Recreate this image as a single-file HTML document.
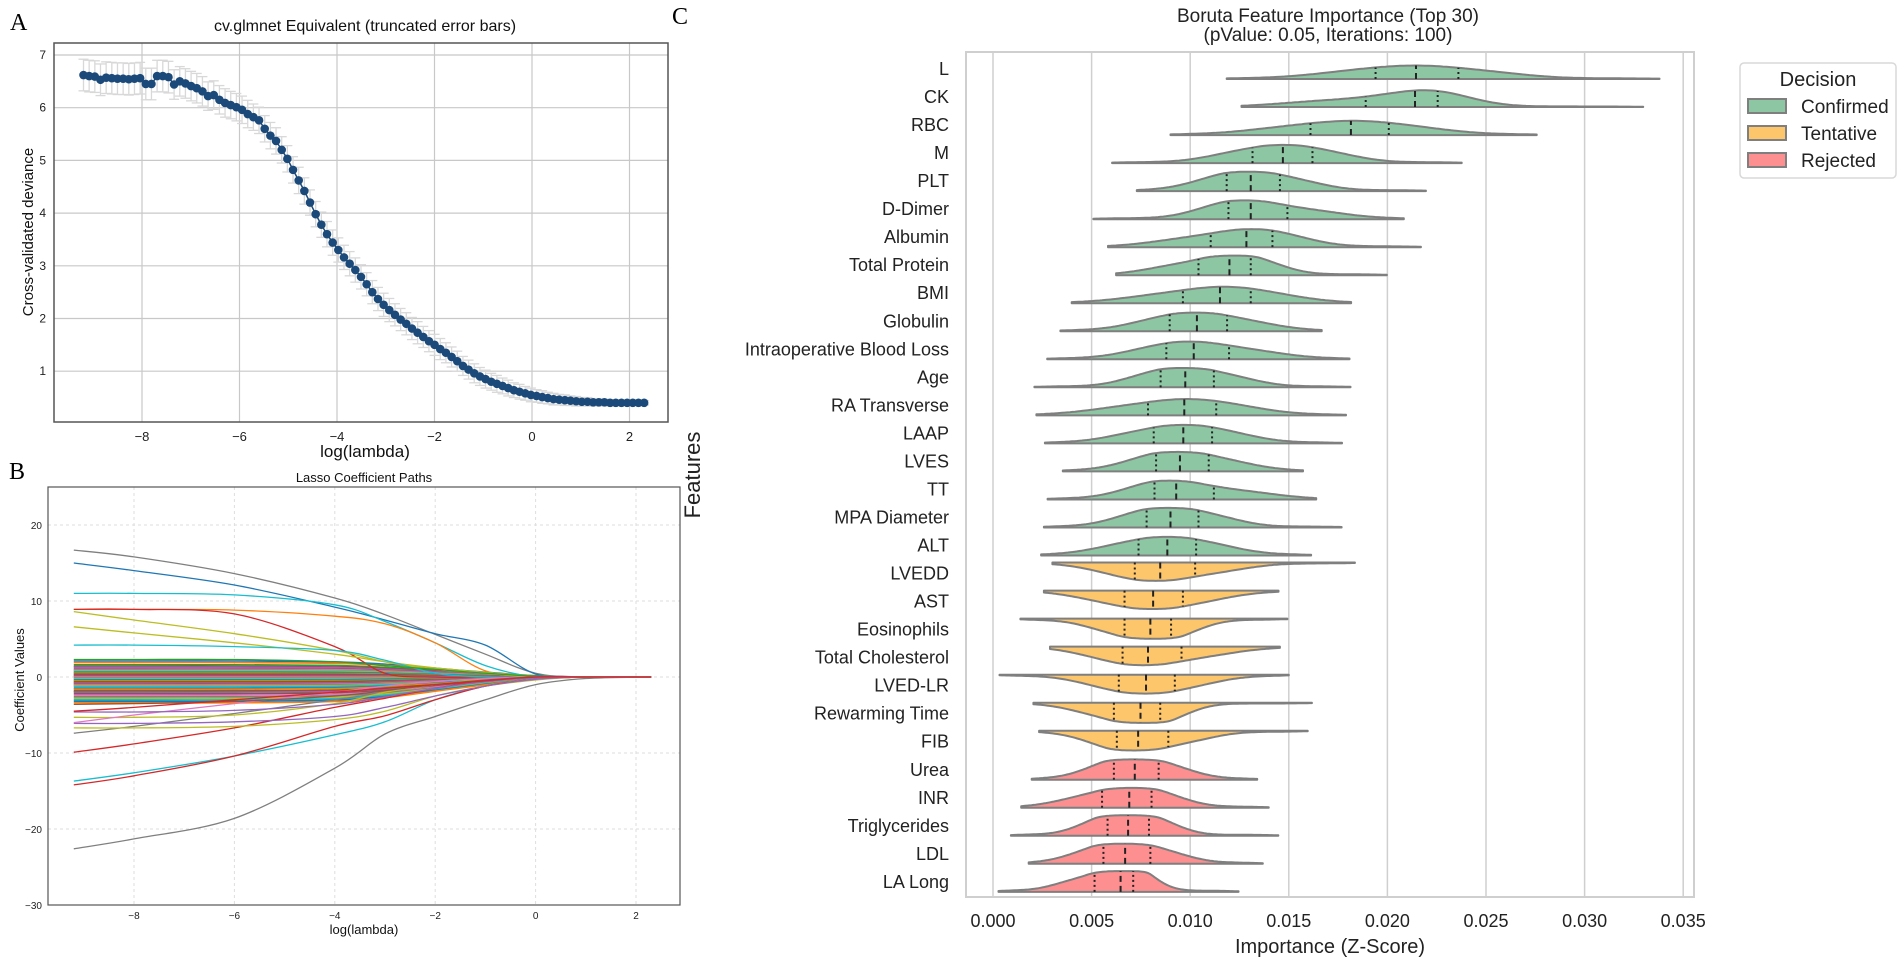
<!DOCTYPE html>
<html><head><meta charset="utf-8">
<style>
html,body{margin:0;padding:0;background:#fff;}
svg{display:block;font-family:"Liberation Sans",sans-serif;}
</style></head>
<body>
<svg id="fig" width="1900" height="960" viewBox="0 0 1900 960" xmlns="http://www.w3.org/2000/svg">
<g id="pa"></g>
<g id="pb"></g>
<g id="pc"></g>
</svg>
<script>
// ---------- Panel A data ----------
const cvLogLambdaStart = -9.2;
const cvLogLambdaEnd = 2.3;
const cvDeviance = [6.62,6.60,6.59,6.53,6.57,6.56,6.55,6.55,6.54,6.55,6.56,6.45,6.45,6.60,6.60,6.58,
6.44,6.50,6.46,6.41,6.37,6.31,6.22,6.24,6.15,6.09,6.05,6.01,5.96,5.88,5.82,5.76,5.60,5.47,5.37,5.20,5.03,4.82,4.62,4.42,4.20,3.98,3.78,3.60,
3.44,3.30,3.16,3.04,2.92,2.79,2.65,2.50,2.37,2.26,2.16,2.07,1.98,1.90,1.81,1.73,1.65,1.57,1.50,1.42,1.35,1.27,1.19,1.10,1.03,
0.96,0.90,0.85,0.80,0.76,0.72,0.68,0.64,0.61,0.58,0.55,0.53,0.51,0.49,0.47,0.46,0.45,0.44,0.43,0.42,0.42,0.41,0.41,0.41,0.40,0.40,0.40,0.40,0.40,0.40,0.40];
const cvError = [0.30,0.30,0.30,0.30,0.30,0.30,0.30,0.30,0.30,0.30,0.30,0.30,0.30,0.30,0.30,0.30,0.28,0.28,0.28,0.28,0.28,0.28,0.27,0.27,0.27,0.27,0.26,0.26,0.26,0.26,
0.25,0.25,0.25,0.25,0.25,0.25,0.25,0.25,0.25,0.25,0.24,0.24,0.24,0.24,0.24,0.23,0.23,0.23,0.23,0.23,0.22,0.22,0.22,0.22,0.22,0.21,0.21,0.21,0.21,0.21,
0.20,0.20,0.20,0.20,0.19,0.19,0.19,0.18,0.18,0.18,0.17,0.17,0.16,0.16,0.15,0.15,0.14,0.14,0.13,0.13,0.12,0.12,0.11,0.11,0.10,0.10,0.09,0.09,0.08,0.08,
0.07,0.07,0.06,0.06,0.05,0.05,0.05,0.04,0.04,0.04];
const cvXTicks = [-8,-6,-4,-2,0,2];
const cvYTicks = [1,2,3,4,5,6,7];

// ---------- Panel B data ----------
const lassoKnotX = [-9.2,-8,-6,-4,-3,-2,-1,0,1,2.3];
const lassoMain = [
 [16.7,15.8,13.6,10.4,8.2,5.6,3.0,0.5,0,0],
 [15.0,14.0,12.1,9.2,7.5,5.7,4.2,0.4,0,0],
 [11.0,11.0,10.8,9.5,7.3,4.5,1.5,0,0,0],
 [8.9,8.9,8.8,8.0,7.0,4.5,0.8,0,0,0],
 [8.9,8.9,8.3,4.0,0.5,0,0,0,0,0],
 [8.6,7.5,5.7,3.5,2.0,1.0,0.5,0,0,0],
 [6.6,5.8,4.5,3.0,2.0,1.2,0.6,0.1,0,0],
 [4.2,4.2,4.0,3.5,2.2,0.5,0,0,0,0],
 [2.3,2.3,2.3,2.0,1.5,1.0,0.5,0.1,0,0],
 [-13.7,-12.6,-10.4,-7.6,-5.9,-3.0,-1.2,-0.3,0,0],
 [-14.2,-13.0,-10.4,-6.5,-5.1,-3.0,-1.2,-0.3,0,0],
 [-22.6,-21.3,-18.6,-12.0,-7.5,-5.2,-3.0,-1.0,-0.2,0],
 [-9.9,-8.8,-6.7,-4.0,-2.8,-1.5,-0.5,0,0,0],
 [-7.4,-6.5,-4.8,-3.0,-2.0,-1.0,-0.4,0,0,0],
 [-6.7,-6.7,-6.5,-5.6,-4.5,-2.5,-1.2,-0.4,0,0],
 [-6.1,-6.1,-5.9,-5.2,-4.0,-2.5,-1.2,-0.3,0,0],
 [-5.3,-5.3,-5.0,-3.5,-2.0,-1.0,-0.3,0,0,0],
 [-6.0,-5.0,-3.5,-2.0,-1.2,-0.6,-0.2,0,0,0],
 [-4.6,-4.6,-4.4,-3.6,-2.6,-1.5,-0.6,-0.1,0,0],
 [-3.6,-3.5,-3.2,-2.5,-1.8,-1.0,-0.4,0,0,0],
 [-4.5,-4.0,-3.0,-2.0,-1.5,-1.0,-0.5,0,0,0]
];
const lassoMainColors = ['#7f7f7f','#1f77b4','#17becf','#ff7f0e','#d62728','#bcbd22','#bcbd22','#17becf','#2ca02c','#17becf','#d62728','#7f7f7f','#d62728','#7f7f7f','#bcbd22','#9467bd','#bcbd22','#e377c2','#9467bd','#8c564b','#d62728'];
const lassoSmallStarts = [2.1,1.9,1.6,1.4,1.3,1.1,1.0,0.9,0.8,0.7,0.6,0.5,0.4,0.3,0.2,0.1,0.0,-0.1,-0.2,-0.3,-0.4,-0.5,-0.6,-0.7,-0.8,-0.9,-1.0,-1.1,-1.2,-1.3,-1.5,-1.6,-1.8,-1.9,-2.0,-2.2,-2.4,-2.6,-2.8,-3.0,-3.2,-3.4];
const lassoSmallShape = [1,1,1,0.95,0.8,0.55,0.3,0.08,0,0];
const lassoXTicks = [-8,-6,-4,-2,0,2];
const lassoYTicks = [-30,-20,-10,0,10,20];

// ---------- Panel C data ----------
const features = ['L','CK','RBC','M','PLT','D-Dimer','Albumin','Total Protein','BMI','Globulin','Intraoperative Blood Loss','Age','RA Transverse','LAAP','LVES','TT','MPA Diameter','ALT','LVEDD','AST','Eosinophils','Total Cholesterol','LVED-LR','Rewarming Time','FIB','Urea','INR','Triglycerides','LDL','LA Long'];
const decisions = ['C','C','C','C','C','C','C','C','C','C','C','C','C','C','C','C','C','C','T','T','T','T','T','T','T','R','R','R','R','R'];
// importance values in units of 0.001
const impMin = [11.85,12.6,9.0,6.04,7.29,5.09,5.83,6.24,3.99,3.42,2.75,2.1,2.2,2.63,3.54,2.77,2.58,2.44,3.01,2.58,1.39,2.89,0.33,2.05,2.34,1.96,1.43,0.91,1.81,0.28];
const impQ1 = [19.4,18.9,16.1,13.16,11.85,11.94,11.04,10.42,9.63,8.96,8.79,8.5,7.86,8.15,8.27,8.19,7.79,7.38,7.19,6.67,6.67,6.57,6.38,6.13,6.28,6.13,5.53,5.81,5.6,5.15];
const impMed = [21.45,21.4,18.15,14.7,13.07,13.07,12.85,11.99,11.51,10.34,10.18,9.75,9.7,9.65,9.48,9.29,9.0,8.84,8.48,8.12,7.98,7.86,7.76,7.48,7.36,7.19,6.91,6.85,6.7,6.47];
const impQ3 = [23.6,22.55,20.07,16.2,14.55,14.93,14.17,13.07,13.07,11.87,11.97,11.2,11.32,11.11,10.94,11.2,10.42,10.3,10.25,9.63,9.03,9.56,9.22,8.48,8.89,8.4,8.04,7.91,7.98,7.11];
const impMax = [33.8,32.97,27.57,23.77,21.95,20.83,21.7,19.97,18.16,16.67,18.08,18.13,17.9,17.7,15.72,16.39,17.68,16.13,18.35,14.48,14.93,14.55,15.0,16.17,15.96,13.4,13.98,14.47,13.68,12.45];
const impTicks = [0,5,10,15,20,25,30,35];
const impTickLabels = ['0.000','0.005','0.010','0.015','0.020','0.025','0.030','0.035'];
const legendLabels = ['Confirmed','Tentative','Rejected'];

const NS='http://www.w3.org/2000/svg';
function mk(parent, tag, attrs, text){
  const e=document.createElementNS(NS,tag);
  for(const k in attrs) e.setAttribute(k,attrs[k]);
  if(text!==undefined) e.textContent=text;
  parent.appendChild(e); return e;
}

// ================= Panel A =================
(function(){
  const g=document.getElementById('pa');
  const L=54,R=668,T=43,B=422;
  const xs=v=>142+(v+8)*48.75, ys=v=>55+(7-v)*52.7;
  let t=mk(g,'text',{x:10,y:30,'font-family':'Liberation Serif,serif','font-size':24});
  t.textContent='A';
  
  
  t=mk(g,'text',{x:365,y:31,'text-anchor':'middle','font-size':16,fill:'#111'},'cv.glmnet Equivalent (truncated error bars)');
  
  
  cvXTicks.forEach(v=>{
    const l=mk(g,'line',{x1:xs(v),x2:xs(v),y1:T,y2:B,stroke:'#c8c8c8','stroke-width':1.2});
    
    
    const tx=mk(g,'text',{x:xs(v),y:B+19,'text-anchor':'middle','font-size':13,fill:'#222'},v<0?'\u2212'+Math.abs(v):String(v));
    
    
  });
  cvYTicks.forEach(v=>{
    const l=mk(g,'line',{x1:L,x2:R,y1:ys(v),y2:ys(v),stroke:'#c8c8c8','stroke-width':1.2});
    
    
    const tx=mk(g,'text',{x:L-8,y:ys(v)+4,'text-anchor':'end','font-size':12,fill:'#222'},String(v));
    
    
  });
  const n=cvDeviance.length, step=(cvLogLambdaEnd-cvLogLambdaStart)/(n-1);
  const eb=mk(g,'g',{stroke:'#d8d8d8','stroke-width':1.3,fill:'none'});
  
  
  let pts=[];
  for(let i=0;i<n;i++){
    const x=xs(cvLogLambdaStart+i*step), y=cvDeviance[i], e=cvError[i];
    mk(eb,'line',{x1:x,x2:x,y1:ys(y+e),y2:ys(y-e)});
    mk(eb,'line',{x1:x-5,x2:x+5,y1:ys(y+e),y2:ys(y+e)});
    mk(eb,'line',{x1:x-5,x2:x+5,y1:ys(y-e),y2:ys(y-e)});
    pts.push(x.toFixed(1)+','+ys(y).toFixed(1));
  }
  const pl=mk(g,'polyline',{points:pts.join(' '),fill:'none',stroke:'#1b4a7a','stroke-width':1.5});
  
  
  for(let i=0;i<n;i++){
    const c=mk(g,'circle',{cx:xs(cvLogLambdaStart+i*step),cy:ys(cvDeviance[i]),r:4.3,fill:'#1b4a7a'});
    
    
  }
  const fr=mk(g,'rect',{x:L,y:T,width:R-L,height:B-T,fill:'none',stroke:'#555','stroke-width':1.5});
  
  
  t=mk(g,'text',{x:365,y:457,'text-anchor':'middle','font-size':17,fill:'#111'},'log(lambda)');
  
  
  t=mk(g,'text',{x:0,y:0,'text-anchor':'middle','font-size':15,fill:'#111',transform:'translate(33,232) rotate(-90)'},'Cross-validated deviance');
  
  
})();

// ================= Panel B =================
(function(){
  const g=document.getElementById('pb');
  const L=48,R=680,T=487,B=905;
  const xs=v=>134+(v+8)*50.2, ys=v=>677-v*7.6;
  let t=mk(g,'text',{x:9,y:479,'font-family':'Liberation Serif,serif','font-size':24},'B');
  
  
  t=mk(g,'text',{x:364,y:482,'text-anchor':'middle','font-size':13,fill:'#111'},'Lasso Coefficient Paths');
  
  
  lassoXTicks.forEach(v=>{
    const l=mk(g,'line',{x1:xs(v),x2:xs(v),y1:T,y2:B,stroke:'#dedede','stroke-width':1,'stroke-dasharray':'3,3'});
    
    
    const tx=mk(g,'text',{x:xs(v),y:B+14,'text-anchor':'middle','font-size':10,fill:'#222'},v<0?'\u2212'+Math.abs(v):String(v));
    
    
  });
  lassoYTicks.forEach(v=>{
    const l=mk(g,'line',{x1:L,x2:R,y1:ys(v),y2:ys(v),stroke:'#dedede','stroke-width':1,'stroke-dasharray':'3,3'});
    
    
    const tx=mk(g,'text',{x:L-6,y:ys(v)+4,'text-anchor':'end','font-size':10,fill:'#222'},v<0?'\u2212'+Math.abs(v):String(v));
    
    
  });
  const cyc=['#1f77b4','#ff7f0e','#2ca02c','#d62728','#9467bd','#8c564b','#e377c2','#7f7f7f','#bcbd22','#17becf'];
  function path(vals){
    const P=lassoKnotX.map((x,i)=>[xs(x),ys(vals[i])]);
    let d='M'+P[0][0].toFixed(1)+','+P[0][1].toFixed(1);
    for(let i=0;i<P.length-1;i++){
      const p0=P[Math.max(0,i-1)],p1=P[i],p2=P[i+1],p3=P[Math.min(P.length-1,i+2)];
      const c1=[p1[0]+(p2[0]-p0[0])/6,p1[1]+(p2[1]-p0[1])/6], c2=[p2[0]-(p3[0]-p1[0])/6,p2[1]-(p3[1]-p1[1])/6];
      d+=' C'+c1[0].toFixed(1)+','+c1[1].toFixed(1)+' '+c2[0].toFixed(1)+','+c2[1].toFixed(1)+' '+p2[0].toFixed(1)+','+p2[1].toFixed(1);
    }
    return d;
  }
  lassoSmallStarts.forEach((s,i)=>{
    const p=mk(g,'path',{d:path(lassoSmallShape.map(k=>k*s)),fill:'none',stroke:cyc[i%10],'stroke-width':1.6});
    
    
  });
  lassoMain.forEach((vals,i)=>{
    const p=mk(g,'path',{d:path(vals),fill:'none',stroke:lassoMainColors[i],'stroke-width':1.3});
    
    
  });
  const fr=mk(g,'rect',{x:L,y:T,width:R-L,height:B-T,fill:'none',stroke:'#555','stroke-width':1.2});
  
  
  t=mk(g,'text',{x:364,y:934,'text-anchor':'middle','font-size':13,fill:'#111'},'log(lambda)');
  
  
  t=mk(g,'text',{x:0,y:0,'text-anchor':'middle','font-size':13,fill:'#111',transform:'translate(24,680) rotate(-90)'},'Coefficient Values');
  
  
})();

// ================= Panel C =================
(function(){
  const g=document.getElementById('pc');
  const L=966,R=1694,T=52,B=897;
  const xs=v=>993+v*19.72;
  const rowC=i=>69+i*28.03;
  const fills={C:'#8cc6a3',T:'#fec66a',R:'#fd8f91'};
  let t=mk(g,'text',{x:672,y:24,'font-family':'Liberation Serif,serif','font-size':24},'C');
  
  
  t=mk(g,'text',{x:1328,y:22,'text-anchor':'middle','font-size':19,fill:'#222'},'Boruta Feature Importance (Top 30)');
  
  
  t=mk(g,'text',{x:1328,y:41,'text-anchor':'middle','font-size':19,fill:'#222'},'(pValue: 0.05, Iterations: 100)');
  
  
  impTicks.forEach((v,i)=>{
    const l=mk(g,'line',{x1:xs(v),x2:xs(v),y1:T,y2:B,stroke:'#cfcfcf','stroke-width':1.5});
    
    
    const tx=mk(g,'text',{x:xs(v),y:927,'text-anchor':'middle','font-size':18,fill:'#222'},impTickLabels[i]);
    
    
  });
  const dens=[]; let gmax=0;
  for(let i=0;i<features.length;i++){
    const mn=impMin[i],q1=impQ1[i],md=impMed[i],q3=impQ3[i],mx=impMax[i];
    const lo=Math.max(mn,q1-1.5*(md-q1)), hi=Math.min(mx,q3+1.5*(q3-md));
    const P=[0,0.04,0.25,0.5,0.75,0.96,1],Q=[mn,lo,q1,md,q3,hi,mx];
    const samp=[];const N=80;
    for(let k=0;k<N;k++){const p=(k+0.5)/N;let j=0;while(P[j+1]<p)j++;samp.push(Q[j]+(Q[j+1]-Q[j])*(p-P[j])/(P[j+1]-P[j]));}
    const h=0.38*(q3-q1)+0.15;
    const f=x=>{let s=0;for(const v of samp)s+=Math.exp(-0.5*((x-v)/h)**2);return s/(N*h*2.5066);};
    const pts=[];const M=120;
    for(let k=0;k<=M;k++){const x=mn+(mx-mn)*k/M;const y=f(x);pts.push([x,y]);if(y>gmax)gmax=y;}
    dens.push({pts,f});
  }
  const K=30/gmax, CAP=21;
  const hf=y=>{const v=K*y;return v>CAP*0.8?CAP*0.8+(CAP*0.2)*(1-Math.exp(-(v-CAP*0.8)/(CAP*0.2))):v;};
  for(let i=0;i<features.length;i++){
    const dec=decisions[i];
    const up=dec!=='T';
    const base=up?rowC(i)+10:rowC(i)-11;
    const sgn=up?-1:1;
    const d=dens[i];
    let path='M'+xs(impMin[i]).toFixed(1)+','+base.toFixed(1);
    d.pts.forEach(p=>{path+=' L'+xs(p[0]).toFixed(1)+','+(base+sgn*hf(p[1])).toFixed(1);});
    path+=' L'+xs(impMax[i]).toFixed(1)+','+base.toFixed(1)+' Z';
    const vg=mk(g,'g',{});
    
    
    mk(vg,'path',{d:path,fill:fills[dec],stroke:'#7f7f7f','stroke-width':2,'stroke-linejoin':'round'});
    [[impQ1[i],'2,3'],[impMed[i],'6,4'],[impQ3[i],'2,3']].forEach(([v,da])=>{
      const hgt=hf(d.f(v));
      mk(vg,'line',{x1:xs(v),x2:xs(v),y1:base,y2:base+sgn*hgt,stroke:'#222','stroke-width':2,'stroke-dasharray':da});
    });
    const lb=mk(g,'text',{x:949,y:rowC(i)+6,'text-anchor':'end','font-size':18,fill:'#222'},features[i]);
    
    
  }
  const fr=mk(g,'rect',{x:L,y:T,width:R-L,height:B-T,fill:'none',stroke:'#cfcfcf','stroke-width':2});
  
  
  t=mk(g,'text',{x:1330,y:953,'text-anchor':'middle','font-size':20,fill:'#222'},'Importance (Z-Score)');
  
  
  t=mk(g,'text',{x:0,y:0,'text-anchor':'middle','font-size':22,fill:'#222',transform:'translate(700,475) rotate(-90)'},'Features');
  
  
  const lg=mk(g,'g',{});
  
  
  mk(lg,'rect',{x:1740,y:63,width:156,height:115,rx:4,fill:'#fff',stroke:'#d8d8d8','stroke-width':1.5});
  mk(lg,'text',{x:1818,y:86,'text-anchor':'middle','font-size':20,fill:'#222'},'Decision');
  const lc=['C','T','R'];
  legendLabels.forEach((lab,i)=>{
    const e=mk(lg,'g',{});
    
    
    mk(e,'rect',{x:1748,y:99+i*27,width:38,height:14,fill:fills[lc[i]],stroke:'#7f7f7f','stroke-width':2});
    mk(e,'text',{x:1801,y:113+i*27,'font-size':19,fill:'#222'},lab);
  });
})();
</script>
</body></html>
